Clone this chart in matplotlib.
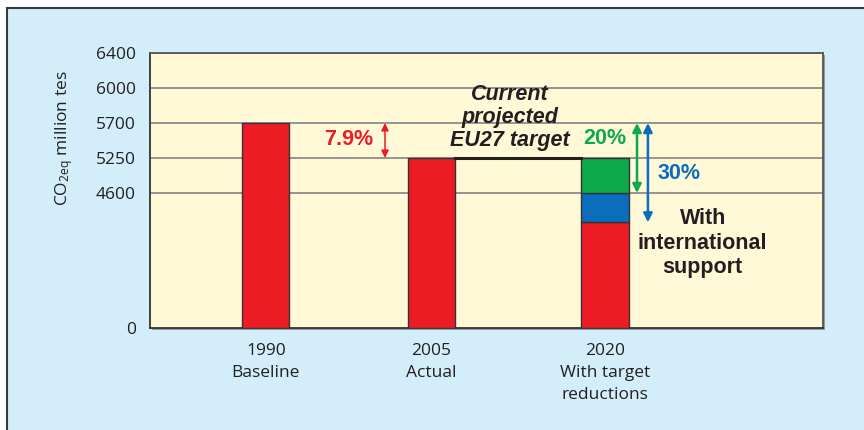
import numpy as np
import matplotlib
matplotlib.use("Agg")
import matplotlib.pyplot as plt
from matplotlib.patches import Rectangle

plt.rcParams["mathtext.fontset"] = "custom"
plt.rcParams["mathtext.rm"] = "Open Sans"

# data
years = ["1990\nBaseline", "2005\nActual", "2020\nWith target\nreductions"]
xpos = [0.7, 1.7, 2.75]
totals = [5700, 5250, 5250]
red_2020 = 3600      # 30% reduction level
blue_2020 = 4600     # 20% reduction level
green_2020 = 5250    # current projected target
yticks = [0, 4600, 5250, 5700, 6000, 6400]
ytick_pos = [0, 3.857, 4.857, 5.857, 6.857, 7.857]  # broken axis spacing

RED = "#ED1C24"
GREEN = "#0DAA4B"
BLUE = "#0A6EBD"
DARK = "#231F20"
OUTER = "#D3EEFA"
INNER = "#FFF9D7"

def fwd(v):
    return np.interp(v, yticks, ytick_pos)

def inv(p):
    return np.interp(p, ytick_pos, yticks)

fig = plt.figure(figsize=(8.64, 4.30), dpi=100, facecolor="white")
fig.patches.append(Rectangle((7/864, -0.1), 2, 1.1 - 8/430, transform=fig.transFigure,
                             facecolor=OUTER, edgecolor="#3a3a3a", lw=1.5, zorder=0))
# little shadow behind plot area
fig.patches.append(Rectangle((152/864, 1 - 330/430), 673/864, 275/430, transform=fig.transFigure,
                             facecolor="#9a9a9a", edgecolor="none", zorder=0.5))

ax = fig.add_axes([150/864, 1 - 328/430, 673/864, 275/430])
ax.set_zorder(2)
ax.set_facecolor(INNER)
ax.set_yscale("function", functions=(fwd, inv))
ax.set_ylim(0, 6400)
ax.set_xlim(0, 4.067)
ax.set_yticks(yticks)
ax.set_yticklabels([str(t) for t in yticks])
ax.set_xticks(xpos)
ax.set_xticklabels(years)
for t in yticks[1:]:
    ax.axhline(t, color="#8c8c8c", lw=1.3, zorder=1)

w = 0.285
ax.bar(xpos[:2], totals[:2], width=w, color=RED, edgecolor="#333333", lw=1, zorder=3)
ax.bar(xpos[2], red_2020, width=w, color=RED, edgecolor="#333333", lw=1, zorder=3)
ax.bar(xpos[2], blue_2020 - red_2020, bottom=red_2020, width=w, color=BLUE, edgecolor="#333333", lw=1, zorder=3)
ax.bar(xpos[2], green_2020 - blue_2020, bottom=blue_2020, width=w, color=GREEN, edgecolor="#333333", lw=1, zorder=3)

# projected target line
ax.plot([xpos[1] + w/2, xpos[2] - w/2], [totals[1], totals[1]], color=DARK, lw=2.2, zorder=4)

def darrow(x, y0, y1, c, lw, ms):
    ax.annotate("", xy=(x, y1), xytext=(x, y0),
                arrowprops=dict(arrowstyle="<|-|>", color=c, lw=lw,
                                mutation_scale=ms, shrinkA=0, shrinkB=0), zorder=5)

darrow(1.42, totals[0], totals[1], RED, 1.1, 11)
darrow(2.943, totals[0], blue_2020, GREEN, 1.8, 13)
darrow(3.009, totals[0], red_2020, BLUE, 1.8, 13)

bold = dict(family="Liberation Sans", fontweight="bold", fontsize=15.5)
ax.text(1.20, 5494, "7.9%", color=RED, ha="center", va="center", **bold)
ax.text(2.75, 5507, "20%", color=GREEN, ha="center", va="center", **bold)
ax.text(3.07, 4953, "30%", color=BLUE, ha="left", va="center", **bold)
ax.text(2.175, 5750, "Current\nprojected\nEU27 target", color=DARK, ha="center", va="center",
        style="italic", linespacing=1.12, **bold)
ax.text(3.34, 2896, "With\ninternational\nsupport", color=DARK, ha="center", va="center",
        linespacing=1.2, **bold)

for s in ax.spines.values():
    s.set_color("#333333")
    s.set_linewidth(1.3)
ax.spines["top"].set_color("#555555")
ax.spines["right"].set_color("#555555")

ax.tick_params(axis="both", length=0, labelsize=12.5, labelcolor=DARK)
ax.tick_params(axis="y", pad=10)
ax.tick_params(axis="x", pad=11)
for lab in ax.get_xticklabels() + ax.get_yticklabels():
    lab.set_family("Open Sans")
for lab in ax.get_xticklabels():
    lab.set_linespacing(1.5)

ax.set_ylabel(r"CO$\mathregular{_{2eq}}$ million tes", fontsize=12.5, color=DARK, family="Open Sans")
ax.yaxis.set_label_coords(-0.111, 0.69)

fig.savefig("out.png", dpi=100, facecolor=fig.get_facecolor())
